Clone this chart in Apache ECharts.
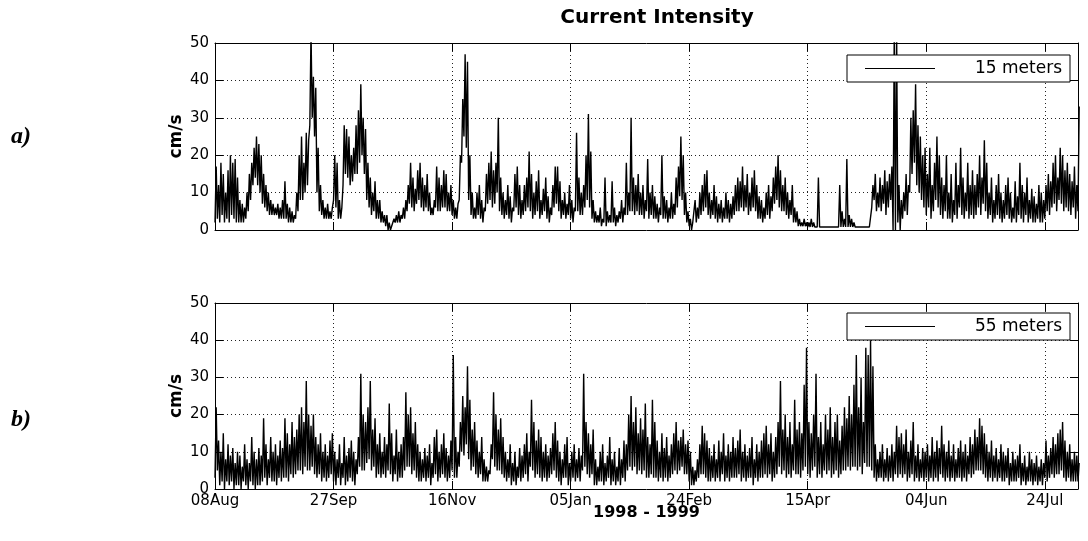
<!DOCTYPE html>
<html>
<head>
<meta charset="utf-8">
<script src="https://cdn.jsdelivr.net/npm/echarts@6/dist/echarts.min.js"></script>
<style>html,body{margin:0;padding:0;background:#fff}#c{width:1088px;height:541px}</style>
</head>
<body>
<div id="c"></div>
<script>
// x axis: days since 08 Aug 1998, ticks every 50 days
const tickLabels = ['08Aug','27Sep','16Nov','05Jan','24Feb','15Apr','04Jun','24Jul'];
const seriesNames = ['15 meters','55 meters'];

// 15 m depth: daily high / low of current intensity (cm/s)
const hi15 = [
17,12,18,15,10,16,20,18,19,14,
8,7,6,10,15,18,22,25,23,20,
15,12,10,8,7,6,7,6,8,13,
7,6,5,4,10,20,25,18,26,24,
53,41,38,22,12,8,6,7,5,6,
20,18,8,6,28,27,25,20,22,28,
32,39,30,27,18,14,10,13,8,8,
5,4,4,2,1,3,4,5,4,6,
8,12,18,14,11,16,18,14,12,15,
10,6,8,17,14,12,16,15,10,12,
8,6,7,20,35,47,45,20,10,6,
10,12,8,6,15,18,21,16,18,30,
14,10,8,12,9,6,15,17,12,8,
12,14,21,15,10,13,16,8,11,14,
9,6,12,17,17,13,8,10,7,12,
8,6,26,14,10,12,20,31,21,8,
5,4,6,3,14,5,4,13,6,4,
5,8,6,18,10,30,14,12,15,10,
12,8,19,10,12,9,7,6,20,9,
8,6,10,7,14,17,25,20,10,5,
3,2,8,6,10,12,15,16,10,8,
12,9,7,8,6,10,8,7,9,12,
14,13,17,12,15,10,14,16,12,9,
8,6,10,12,9,14,17,20,16,12,
14,10,8,12,6,5,3,2,3,2,
2,3,2,1.2,14,1.2,1.2,1.2,1.2,1.2,
1.2,1.2,1.2,12,5,3,19,4,3,2,
1.2,1.2,1.2,1.2,1.2,1.2,1.2,12,15,10,
14,12,16,13,15,17,53,53,12,8,
10,15,12,30,32,39,28,25,20,22,
15,22,12,18,25,20,14,12,20,10,
15,8,18,12,22,14,10,18,12,16,
12,15,20,14,24,18,10,14,8,12,
15,10,8,12,14,10,6,13,9,18,
12,10,14,8,11,9,7,12,10,8,
12,15,13,18,20,14,22,20,16,18,
15,13,17,12,33
];
const lo15 = [
2,3,2,4,2,3,2,4,3,2,
2,2,2,3,5,8,12,14,12,10,
7,6,5,4,4,4,4,3,3,3,
3,2,2,2,3,5,8,8,10,12,
28,30,25,10,5,4,3,3,3,3,
8,6,3,3,12,15,14,12,13,15,
15,18,20,15,8,6,4,5,3,3,
2,2,1,0,0,1,2,2,2,3,
3,5,7,6,5,7,8,6,5,6,
5,4,4,6,5,5,6,6,5,5,
4,3,3,8,18,25,22,8,4,3,
3,4,3,2,5,7,8,6,7,10,
5,4,3,4,3,2,5,6,4,3,
4,5,6,5,3,4,5,3,4,5,
3,2,4,6,7,5,3,4,3,4,
3,2,5,5,4,4,6,8,6,3,
2,2,2,1,2,1,2,2,2,1,
2,3,2,4,4,5,5,4,5,4,
4,3,5,3,4,3,3,2,4,3,
3,2,3,3,4,6,9,8,4,2,
1,0,2,2,3,4,5,6,4,3,
4,3,2,3,2,3,3,2,3,4,
5,5,6,5,6,4,5,6,5,3,
3,2,3,4,3,5,7,8,6,5,
5,4,3,4,2,2,1,1,1,1,
0.8,0.8,0.8,0.8,0.8,0.8,0.8,0.8,0.8,0.8,
0.8,0.8,0.8,0.8,0.8,0.8,0.8,0.8,0.8,0.8,
0.8,0.8,0.8,0.8,0.8,0.8,0.8,6,8,5,
6,5,7,4,6,8,0,0,2,0,
3,5,4,10,15,18,12,10,8,6,
4,6,3,5,8,6,4,3,5,3,
3,2,4,3,6,4,3,5,3,4,
3,4,6,4,7,5,3,4,2,3,
4,3,2,3,4,3,2,3,2,4,
3,2,4,2,3,2,2,3,2,2,
3,5,4,6,7,5,8,7,5,6,
5,4,6,3,5
];

// 55 m depth: daily high / low of current intensity (cm/s)
const hi55 = [
22,13,10,15,8,12,9,11,7,10,
9,6,12,8,7,14,10,8,11,9,
19,12,8,14,10,12,9,13,11,19,
15,12,18,14,16,20,22,18,29,20,
17,20,14,12,15,10,12,9,13,15,
10,8,12,7,14,9,11,13,10,8,
14,31,20,18,22,29,16,19,12,15,
10,14,12,23,15,9,16,10,12,14,
26,20,22,15,18,12,10,8,11,9,
12,7,14,16,10,12,15,11,9,13,
36,14,10,18,25,22,33,24,16,18,
13,10,14,8,6,5,12,26,20,16,
19,14,10,8,12,7,10,6,11,9,
12,15,10,24,18,13,16,14,10,12,
9,11,15,18,13,10,8,12,14,7,
10,12,8,11,9,31,18,15,12,16,
8,6,10,12,7,9,14,8,10,6,
11,8,13,12,20,25,18,22,15,19,
16,23,14,12,24,18,13,10,15,11,
14,9,12,15,18,13,14,16,12,13,
10,6,5,8,12,17,15,13,11,9,
12,8,13,10,15,9,12,10,14,11,
13,16,10,12,9,11,14,8,12,10,
13,15,17,12,15,10,14,18,29,16,
20,14,18,12,24,16,18,15,28,38,
18,15,20,31,14,18,12,20,16,22,
14,18,20,13,17,22,19,25,20,28,
36,22,30,18,38,36,40,33,12,8,
10,12,8,11,9,12,10,17,14,15,
12,16,10,13,18,9,12,8,11,10,
12,9,14,10,13,11,17,12,10,13,
9,12,8,11,13,10,12,9,14,12,
16,14,19,17,15,12,10,13,9,11,
8,12,10,9,11,7,10,8,9,12,
7,9,6,10,8,7,9,6,8,7,
13,9,11,14,12,15,16,18,13,10,
12,8,10,9,7
];
const lo55 = [
3,5,1,2,0,2,1,2,0,1,
1,0,2,1,0,2,1,0,1,1,
2,3,1,3,2,2,1,3,2,3,
3,2,4,3,4,5,5,4,6,5,
5,6,4,3,4,2,3,2,3,4,
2,1,3,1,3,1,2,3,2,1,
4,6,5,5,7,8,5,6,3,4,
3,4,3,5,4,2,4,2,3,3,
5,6,6,4,5,3,2,2,3,2,
3,1,3,4,2,3,4,3,2,3,
5,3,3,6,10,9,12,8,5,6,
4,3,4,2,2,2,4,8,6,5,
5,4,3,2,3,1,2,1,3,2,
3,4,2,6,5,3,4,3,2,3,
2,3,4,5,3,2,1,3,3,1,
2,3,2,3,2,5,6,4,3,4,
1,1,2,2,1,2,3,1,2,1,
2,1,3,2,5,6,5,6,4,5,
4,5,3,3,4,3,3,2,3,2,
3,2,3,4,5,4,5,6,4,4,
2,1,1,2,3,4,4,3,2,2,
3,2,3,2,4,2,3,2,3,3,
3,4,2,3,2,3,3,1,3,2,
3,3,4,3,4,2,3,4,6,4,
5,3,4,3,5,4,4,3,5,6,
4,3,5,6,3,4,3,5,4,5,
3,4,5,3,4,5,5,6,5,6,
6,5,6,4,7,6,6,5,3,2,
3,3,2,3,2,3,2,4,3,4,
3,4,2,3,4,2,3,2,3,2,
3,2,3,2,3,2,4,3,2,3,
2,3,2,3,3,2,3,2,4,3,
4,5,5,5,4,3,2,3,2,3,
2,3,2,2,3,1,2,2,2,3,
1,2,1,2,2,1,2,1,2,1,
3,2,3,4,3,4,4,5,3,2,
3,2,2,2,2
];

function zig(hi, lo) {
  const out = [];
  for (let d = 0; d < hi.length; d++) {
    out.push([d, lo[d]]);
    out.push([d + 0.5, hi[d]]);
  }
  return out;
}

const FONT = 'DejaVu Sans';
const grids = [
  { left: 215, right: 10, top: 43, height: 187 },
  { left: 215, right: 10, top: 303, height: 186 }
];
const dotted = { color: '#222', width: 1, type: [1, 3] };

function xAxes(gi, withLabels) {
  return [
    {
      gridIndex: gi, type: 'value', min: 0, max: 364, interval: 50, position: 'bottom',
      axisLine: { show: true, onZero: false, lineStyle: { color: '#000', width: 1 } },
      axisTick: { show: true, inside: true, length: 8, lineStyle: { color: '#000' } },
      axisLabel: withLabels ? {
        show: true, margin: 5, color: '#000', fontFamily: FONT, fontSize: 15,
        showMaxLabel: false,
        formatter: v => (v % 50 === 0 && tickLabels[v / 50] !== undefined) ? tickLabels[v / 50] : ''
      } : { show: false },
      splitLine: { show: true, lineStyle: dotted },
      name: withLabels ? '1998 - 1999' : '',
      nameLocation: 'middle', nameGap: 16, nameMoveOverlap: false,
      nameTextStyle: { color: '#000', fontFamily: FONT, fontWeight: 'bold', fontSize: 16 }
    },
    {
      gridIndex: gi, type: 'value', min: 0, max: 364, interval: 50, position: 'top',
      axisLine: { show: true, onZero: false, lineStyle: { color: '#000', width: 1 } },
      axisTick: { show: true, inside: true, length: 8, lineStyle: { color: '#000' } },
      axisLabel: { show: false }, splitLine: { show: false }
    }
  ];
}
function yAxes(gi) {
  return [
    {
      gridIndex: gi, type: 'value', min: 0, max: 50, interval: 10, position: 'left',
      axisLine: { show: true, onZero: false, lineStyle: { color: '#000', width: 1 } },
      axisTick: { show: true, inside: true, length: 8, lineStyle: { color: '#000' } },
      axisLabel: { show: true, margin: 6, color: '#000', fontFamily: FONT, fontSize: 15 },
      splitLine: { show: true, lineStyle: dotted },
      name: 'cm/s', nameLocation: 'middle', nameGap: 30, nameMoveOverlap: false,
      nameTextStyle: { color: '#000', fontFamily: FONT, fontWeight: 'bold', fontSize: 17 }
    },
    {
      gridIndex: gi, type: 'value', min: 0, max: 50, interval: 10, position: 'right',
      axisLine: { show: true, onZero: false, lineStyle: { color: '#000', width: 1 } },
      axisTick: { show: true, inside: true, length: 8, lineStyle: { color: '#000' } },
      axisLabel: { show: false }, splitLine: { show: false }
    }
  ];
}
function legendFor(name, top) {
  return {
    data: [name], left: 847, top: top, orient: 'horizontal',
    backgroundColor: '#fff', borderColor: '#000', borderWidth: 1, borderRadius: 0,
    padding: [5, 8, 5, 18], icon: 'rect', itemWidth: 70, itemHeight: 1,
    formatter: n => '{r|' + n + '}',
    textStyle: { rich: { r: { width: 122, align: 'right', fontFamily: FONT, fontSize: 17, color: '#000' } } }
  };
}

const chart = echarts.init(document.getElementById('c'), null, { renderer: 'canvas' });
chart.setOption({
  animation: false,
  backgroundColor: '#fff',
  title: {
    text: 'Current Intensity', left: 652, top: 3, textAlign: 'center',
    textStyle: { fontFamily: FONT, fontWeight: 'bold', fontSize: 20, color: '#000' }
  },
  legend: [legendFor(seriesNames[0], 55), legendFor(seriesNames[1], 313)],
  grid: grids,
  xAxis: [...xAxes(0, false), ...xAxes(1, true)],
  yAxis: [...yAxes(0), ...yAxes(1)],
  series: [
    { name: seriesNames[0], type: 'line', xAxisIndex: 0, yAxisIndex: 0, data: zig(hi15, lo15),
      symbol: 'none', color: '#000', lineStyle: { color: '#000', width: 1.4 }, clip: true },
    { name: seriesNames[1], type: 'line', xAxisIndex: 2, yAxisIndex: 2, data: zig(hi55, lo55),
      symbol: 'none', color: '#000', lineStyle: { color: '#000', width: 1.4 }, clip: true }
  ],
  graphic: [
    { type: 'text', left: 11, top: 125, style: { text: 'a)', font: 'italic bold 24px "Liberation Serif"', fill: '#000' } },
    { type: 'text', left: 11, top: 408, style: { text: 'b)', font: 'italic bold 24px "Liberation Serif"', fill: '#000' } }
  ]
});
</script>
</body>
</html>
